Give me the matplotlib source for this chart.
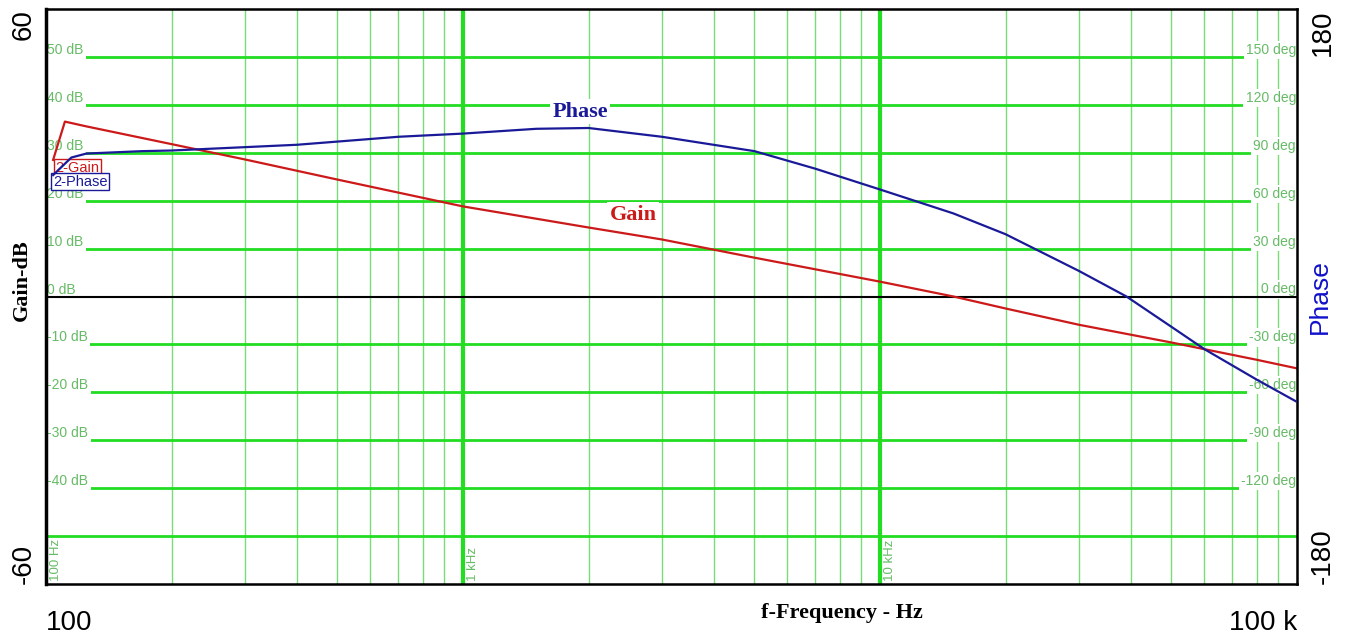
import matplotlib
matplotlib.use('Agg')
import matplotlib.pyplot as plt
from matplotlib.ticker import NullLocator
import numpy as np

# Ganho medido (Hz, dB)
freq_ganho = [104, 111, 125, 200, 300, 500, 1000, 2000, 3000, 5000, 10000,
              15000, 20000, 30000, 50000, 60000, 80000, 100000]
ganho_db = [28.5, 36.5, 35.5, 31.8, 28.6, 24.4, 18.8, 14.4, 11.9, 8.1, 3.1,
            0.0, -2.5, -5.9, -9.6, -11.0, -13.2, -15.0]

# Fase medida (Hz, graus)
freq_fase = [104, 115, 125, 170, 200, 400, 700, 1000, 1500, 2000, 3000, 5000,
             7000, 10000, 15000, 20000, 30000, 39000, 50000, 60000, 80000, 100000]
fase_deg = [76, 87, 89.5, 91, 91.4, 95, 100, 102, 105, 105.5, 100, 91,
            80, 67, 52, 39, 16, 0, -19, -33, -52, -66]

# Grade
linhas_db = [-50, -40, -30, -20, -10, 10, 20, 30, 40, 50]
rotulos_db = [50, 40, 30, 20, 10, 0, -10, -20, -30, -40]
rotulos_deg = [150, 120, 90, 60, 30, 0, -30, -60, -90, -120]
decadas = [100, 1000, 10000]
rotulos_dec = ['100 Hz', '1 kHz', '10 kHz']

verde = '#22dd22'
verde_claro = '#77dd77'
verde_txt = '#66bb66'
vermelho = '#cc1a1a'
azul = '#1a1a99'

fig = plt.figure(figsize=(13.48, 6.39), dpi=100)
ax = fig.add_axes([46 / 1348, 1 - 584 / 639, 1251 / 1348, 575 / 639])
ax.set_xscale('log')
ax.set_xlim(100, 100000)
ax.set_ylim(-60, 60)

# linhas verticais: menores e decadas
for d in decadas:
    for k in range(2, 10):
        ax.axvline(d * k, color=verde_claro, lw=1, zorder=1)
for d in [1000, 10000]:
    ax.axvline(d, color=verde, lw=3, zorder=1)

# linhas horizontais
for v in linhas_db:
    ax.axhline(v, color=verde, lw=2, zorder=1)
ax.axhline(0, color='black', lw=1.5, zorder=4)

# rotulos da grade (esquerda em dB, direita em graus)
caixa = dict(facecolor='white', edgecolor='none', pad=1.5)
for v in rotulos_db:
    ax.text(100.8, v, '%d dB' % v, color=verde_txt, fontsize=10,
            family='Liberation Sans', ha='left', va='bottom', bbox=caixa, zorder=3)
for v in rotulos_deg:
    ax.text(99400, v / 3.0, '%d deg' % v, color=verde_txt, fontsize=10,
            family='Liberation Sans', ha='right', va='bottom', bbox=caixa, zorder=3)
for d, r in zip(decadas, rotulos_dec):
    ax.text(d * 1.022, -59.3, r, color=verde_txt, fontsize=9.5, rotation=90,
            family='Liberation Sans', ha='left', va='bottom', zorder=3)

# curvas
ax.plot(freq_ganho, ganho_db, color=vermelho, lw=1.6, zorder=5)
ax2 = ax.twinx()
ax2.set_ylim(-180, 180)
ax2.plot(freq_fase, fase_deg, color=azul, lw=1.6, zorder=5)

# rotulos das curvas
ax.text(1908, 38.6, 'Phase', color=azul, fontsize=16, fontweight='bold',
        family='Liberation Serif', ha='center', va='center',
        bbox=dict(facecolor='white', edgecolor='none', pad=2), zorder=6)
ax.text(2557, 17.1, 'Gain', color=vermelho, fontsize=16, fontweight='bold',
        family='Liberation Serif', ha='center', va='center',
        bbox=dict(facecolor='white', edgecolor='none', pad=2), zorder=6)

# legenda em caixas
ax.text(105.5, 26.8, '2-Gain', color=vermelho, fontsize=10.5, family='Liberation Sans',
        ha='left', va='center', zorder=7,
        bbox=dict(facecolor='white', edgecolor=vermelho, pad=1.2, lw=1))
ax.text(104, 24.0, '2-Phase', color=azul, fontsize=10.5, family='Liberation Sans',
        ha='left', va='center', zorder=7,
        bbox=dict(facecolor='white', edgecolor=azul, pad=1.2, lw=1))

# eixos
ax.xaxis.set_minor_locator(NullLocator())
ax.set_xticks([100, 100000])
ax.set_xticklabels(['100', '100 k'], fontsize=20, family='Liberation Sans')
ax.get_xticklabels()[0].set_ha('left')
ax.get_xticklabels()[1].set_ha('right')
ax.tick_params(axis='x', length=0, pad=19)

ax.set_yticks([-60, 60])
ax.set_yticklabels(['-60', '60'], fontsize=20, family='Liberation Sans', rotation=90)
ax.get_yticklabels()[0].set_va('bottom')
ax.get_yticklabels()[1].set_va('top')
ax.tick_params(axis='y', length=0, pad=7)

ax2.set_yticks([-180, 180])
ax2.set_yticklabels(['-180', '180'], fontsize=20, family='Liberation Sans', rotation=90)
ax2.get_yticklabels()[0].set_va('bottom')
ax2.get_yticklabels()[1].set_va('top')
ax2.tick_params(axis='y', length=0, pad=9)

for s in ax2.spines.values():
    s.set_linewidth(1.8)
ax2.spines['left'].set_linewidth(2.5)

fig.text(22 / 1348, 1 - 280 / 639, 'Gain-dB', rotation=90, fontsize=16,
         fontweight='bold', family='Liberation Serif', ha='center', va='center')
fig.text(1320 / 1348, 1 - 297 / 639, 'Phase', rotation=90, fontsize=19,
         color='#1111cc', family='Liberation Sans', ha='center', va='center')
fig.text(842 / 1348, 1 - 613 / 639, 'f-Frequency - Hz', fontsize=16,
         fontweight='bold', family='Liberation Serif', ha='center', va='center')

fig.savefig('out.png', dpi=100)
